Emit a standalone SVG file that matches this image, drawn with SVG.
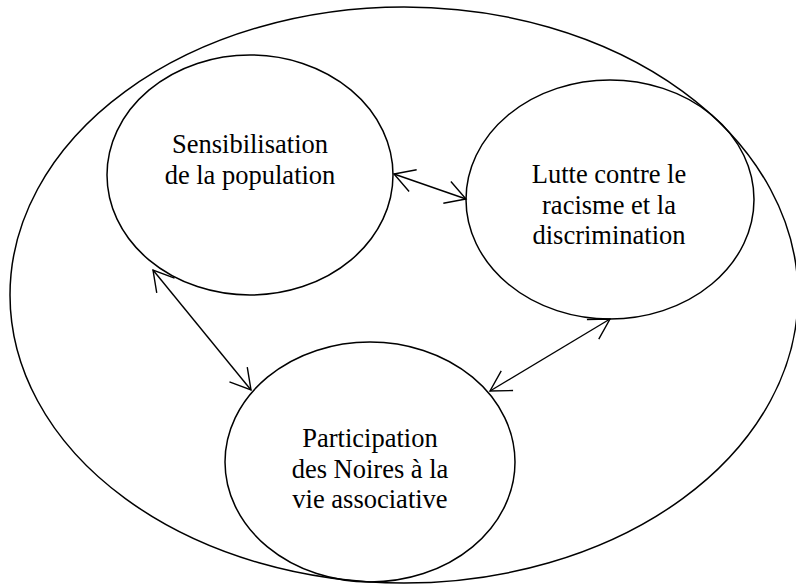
<svg xmlns="http://www.w3.org/2000/svg" width="796" height="585" viewBox="0 0 796 585">
  <style>
    .shape { fill: none; stroke: #000; stroke-width: 1.5; }
    .conn { fill: none; stroke: #000; stroke-width: 1.4; marker-start: url(#arr); marker-end: url(#arr); }
    text { font-family: 'Liberation Serif', 'DejaVu Serif', serif; font-size: 26.5px; fill: #000; text-anchor: middle; }
  </style>
  <defs>
    <marker id="arr" markerUnits="userSpaceOnUse" markerWidth="40" markerHeight="40" viewBox="-25 -20 30 40" refX="0" refY="0" orient="auto-start-reverse" overflow="visible">
      <path d="M-20,-11.5 L0,0 L-20,11.5" fill="none" stroke="#000" stroke-width="1.4"/>
    </marker>
  </defs>
  <rect width="796" height="585" fill="#fff"/>
  <g id="outer">
    <ellipse class="shape" cx="404" cy="295" rx="394" ry="288"/>
  </g>
  <g id="node-sensibilisation" font-family="Liberation Serif, serif">
    <ellipse class="shape" cx="250" cy="175" rx="143" ry="120"/>
    <text x="250" y="153" font-family="Liberation Serif, serif">Sensibilisation</text>
    <text x="250" y="184" font-family="Liberation Serif, serif">de la population</text>
  </g>
  <g id="node-lutte">
    <ellipse class="shape" cx="610" cy="199.5" rx="144" ry="119.5"/>
    <text x="609" y="183" font-family="Liberation Serif, serif">Lutte contre le</text>
    <text x="609" y="213.5" font-family="Liberation Serif, serif">racisme et la</text>
    <text x="609" y="244" font-family="Liberation Serif, serif">discrimination</text>
  </g>
  <g id="node-participation">
    <ellipse class="shape" cx="370" cy="462" rx="145" ry="120"/>
    <text x="370" y="447" font-family="Liberation Serif, serif">Participation</text>
    <text x="370" y="477.5" font-family="Liberation Serif, serif">des Noires à la</text>
    <text x="370" y="508" font-family="Liberation Serif, serif">vie associative</text>
  </g>
  <g id="connectors">
    <line class="conn" x1="153" y1="270" x2="251" y2="390"/>
    <line class="conn" x1="394" y1="174" x2="466" y2="199"/>
    <line class="conn" x1="610" y1="319" x2="490" y2="391"/>
  </g>
</svg>
